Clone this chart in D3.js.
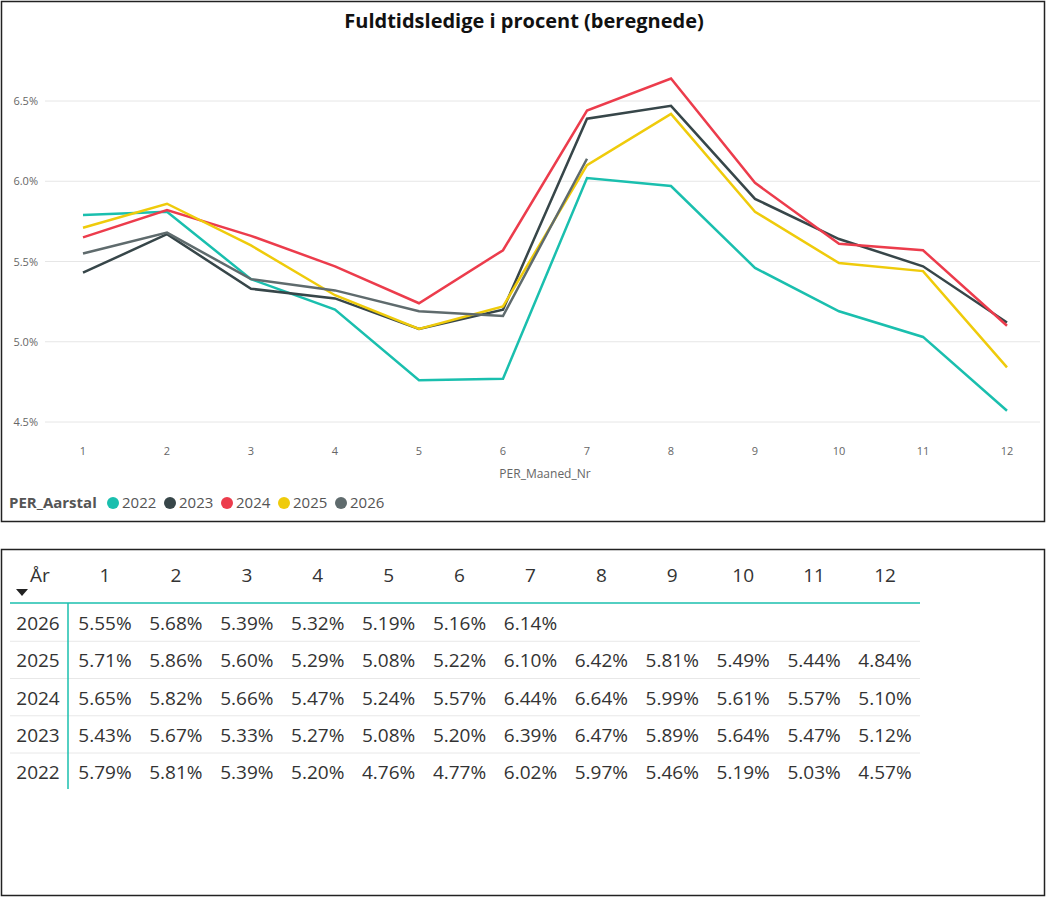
<!DOCTYPE html>
<html><head><meta charset="utf-8">
<script src="https://cdn.jsdelivr.net/npm/d3@7"></script>
<style>body{margin:0;background:#fff;font-family:"Open Sans","DejaVu Sans",sans-serif}</style>
</head><body>
<script>
const months = [1,2,3,4,5,6,7,8,9,10,11,12];
const years = [2022, 2023, 2024, 2025, 2026];
const colors = ["#1abfae", "#374649", "#ec3c4c", "#efcb0b", "#5f6b6d"];
const v2022 = [5.79,5.81,5.39,5.20,4.76,4.77,6.02,5.97,5.46,5.19,5.03,4.57];
const v2023 = [5.43,5.67,5.33,5.27,5.08,5.20,6.39,6.47,5.89,5.64,5.47,5.12];
const v2024 = [5.65,5.82,5.66,5.47,5.24,5.57,6.44,6.64,5.99,5.61,5.57,5.10];
const v2025 = [5.71,5.86,5.60,5.29,5.08,5.22,6.10,6.42,5.81,5.49,5.44,4.84];
const v2026 = [5.55,5.68,5.39,5.32,5.19,5.16,6.14];
const yTicks = [4.5,5.0,5.5,6.0,6.5];
const series = [v2022, v2023, v2024, v2025, v2026];

const W = 1047, H = 898;
const svg = d3.select("body").append("svg").attr("width", W).attr("height", H);

// chart panel
svg.append("rect").attr("x",1.5).attr("y",1.5).attr("width",1043).attr("height",520)
   .attr("fill","none").attr("stroke","#222").attr("stroke-width",1.5);
svg.append("text").attr("x",524).attr("y",28).attr("text-anchor","middle")
   .attr("font-size",20).attr("font-weight","bold").attr("fill","#111")
   .text("Fuldtidsledige i procent (beregnede)");

const x = d3.scaleLinear().domain([1,12]).range([83,1007]);
const y = d3.scaleLinear().domain([4.5,6.5]).range([422,101]);

svg.append("g").selectAll("line").data(yTicks).join("line")
   .attr("x1",45).attr("x2",1040).attr("y1",d=>y(d)).attr("y2",d=>y(d))
   .attr("stroke","#e6e6e6");
svg.append("g").selectAll("text").data(yTicks).join("text")
   .attr("x",38).attr("y",d=>y(d)+4).attr("text-anchor","end")
   .attr("font-size",11).attr("fill","#666").text(d=>d.toFixed(1)+"%");
svg.append("g").selectAll("text").data(months).join("text")
   .attr("x",d=>x(d)).attr("y",455).attr("text-anchor","middle")
   .attr("font-size",11).attr("fill","#666").text(d=>d);
svg.append("text").attr("x",545).attr("y",478).attr("text-anchor","middle")
   .attr("font-size",12).attr("fill","#666").text("PER_Maaned_Nr");

const line = d3.line().x((d,i)=>x(months[i])).y(d=>y(d));
series.forEach((s,k)=>{
  svg.append("path").datum(s).attr("d",line).attr("fill","none")
     .attr("stroke",colors[k]).attr("stroke-width",2.5);
});

// legend
svg.append("text").attr("x",9).attr("y",508).attr("font-size",15).attr("font-weight","bold")
   .attr("fill","#555").text("PER_Aarstal");
years.forEach((yr,k)=>{
  const lx = 113 + k*57;
  svg.append("circle").attr("cx",lx).attr("cy",503).attr("r",6).attr("fill",colors[k]);
  svg.append("text").attr("x",lx+9).attr("y",508).attr("font-size",15).attr("fill","#555").text(yr);
});

// table panel
svg.append("rect").attr("x",1.5).attr("y",549.5).attr("width",1043).attr("height",346)
   .attr("fill","none").attr("stroke","#222").attr("stroke-width",1.5);
const cx = d3.scaleLinear().domain([1,12]).range([105,885]);
svg.append("text").attr("x",40).attr("y",582).attr("text-anchor","middle")
   .attr("font-size",19).attr("fill","#333").text("År");
svg.append("path").attr("d","M16,589 L28,589 L22,596 Z").attr("fill","#222");
svg.append("g").selectAll("text").data(months).join("text")
   .attr("x",d=>cx(d)).attr("y",582).attr("text-anchor","middle")
   .attr("font-size",19).attr("fill","#333").text(d=>d);
svg.append("line").attr("x1",10).attr("x2",920).attr("y1",603).attr("y2",603)
   .attr("stroke","#1abfae").attr("stroke-width",1.5);
const rows = [[2026,v2026],[2025,v2025],[2024,v2024],[2023,v2023],[2022,v2022]];
const ry = d3.scaleLinear().domain([0,4]).range([623,772]);
rows.forEach((r,i)=>{
  if (i>0) svg.append("line").attr("x1",10).attr("x2",920).attr("y1",ry(i)-19).attr("y2",ry(i)-19)
     .attr("stroke","#e8e8e8");
  svg.append("text").attr("x",38).attr("y",ry(i)+7).attr("text-anchor","middle")
     .attr("font-size",19).attr("fill","#333").text(r[0]);
  r[1].forEach((v,j)=>{
    svg.append("text").attr("x",cx(j+1)).attr("y",ry(i)+7).attr("text-anchor","middle")
       .attr("font-size",19).attr("fill","#333").text(v.toFixed(2)+"%");
  });
});
svg.append("line").attr("x1",68).attr("x2",68).attr("y1",603).attr("y2",789)
   .attr("stroke","#1abfae").attr("stroke-width",1.5);
</script>
</body></html>
